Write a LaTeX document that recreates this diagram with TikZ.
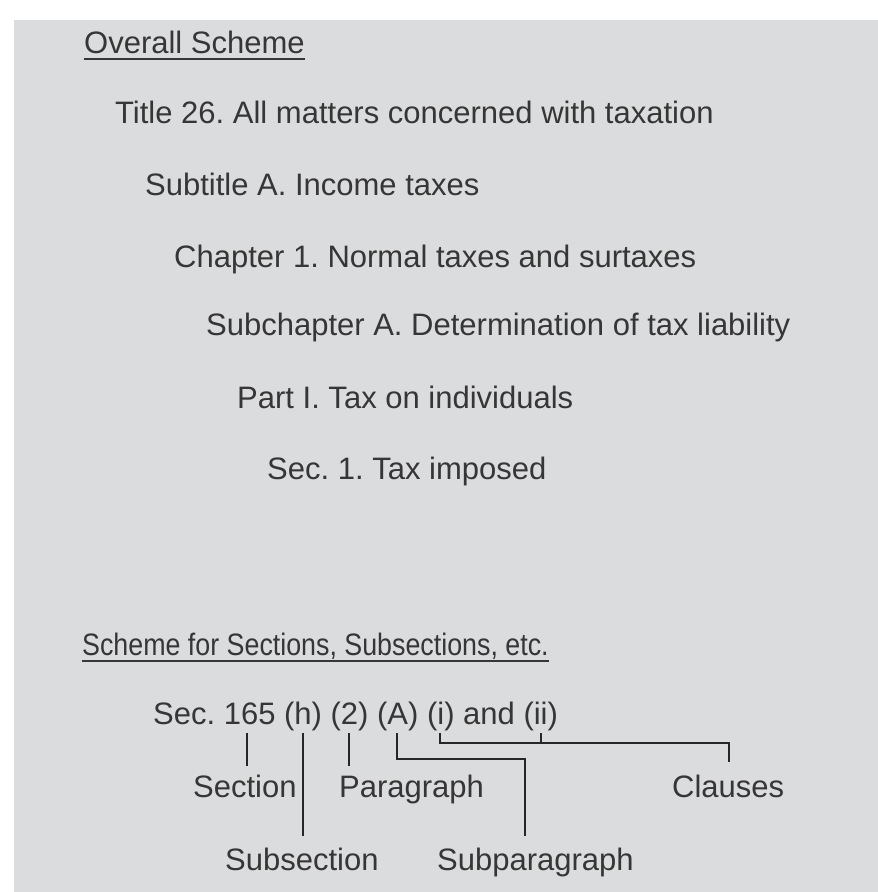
\documentclass[tikz,border=0pt]{standalone}
\usepackage{fontspec}
\setmainfont{Liberation Sans}
\usepackage{xcolor}
\usetikzlibrary{positioning,calc}
\frenchspacing

\definecolor{panel}{HTML}{DBDCDE}
\definecolor{ink}{HTML}{363636}
\definecolor{wire}{HTML}{262626}

\tikzset{
  txt/.style={inner sep=0pt, anchor=base west, text=ink,
    font=\fontsize{31}{36}\selectfont},
  uline/.style={draw=ink, line width=2pt},
  tick/.style={draw=wire, line width=2.6pt},
}

\begin{document}
\begin{tikzpicture}[x=1pt, y=-1pt]
  \useasboundingbox (0,0) rectangle (878,892);
  \fill[panel] (14,20) rectangle (878,892);
  % Overall scheme
  \node[txt] (ovr) at (84,53) {Overall Scheme};
  \draw[uline] ([yshift=-6pt]ovr.base west) -- ([yshift=-6pt]ovr.base east);
  \node[txt] (ttl) at (115,123) {Title 26. All matters concerned with taxation};
  \node[txt] (subt) at (145,195) {Subtitle A. Income taxes};
  \node[txt] (chap) at (174,267) {Chapter 1. Normal taxes and surtaxes};
  \node[txt] (subc) at (206,335) {Subchapter A. Determination of tax liability};
  \node[txt] (part) at (237,408) {Part I. Tax on individuals};
  \node[txt] (sec1) at (267,479) {Sec. 1. Tax imposed};
  % Scheme for sections
  \node[txt, xscale=0.865] (sch) at (82,655) {Scheme for Sections, Subsections, etc.};
  \draw[uline] ([yshift=-6pt]sch.base west) -- ([yshift=-6pt]sch.base east);
  \node[txt] (cite) at (153,724) {Sec. 165 (h) (2) (A) (i) and (ii)};
  % Labels
  \node[txt] (sect) at (193,797) {Section};
  \node[txt] (para) at (339,797) {Paragraph};
  \node[txt] (clau) at (672,797) {Clauses};
  \node[txt] (subs) at (225,870) {Subsection};
  \node[txt] (subp) at (437,870) {Subparagraph};
  % Ticks under the citation
  \coordinate (tSec) at (247,733);
  \coordinate (tSubs) at (303,733);
  \coordinate (tPara) at (349,733);
  \coordinate (tA) at (397,733);
  \coordinate (tI) at (440,733);
  \coordinate (tII) at (541,733);
  \coordinate (kA) at (525,759);
  \coordinate (kCl) at (729,743);
  % Connectors
  \draw[tick, shorten >=8pt] (tSec) -- (tSec |- sect.north);
  \draw[tick, shorten >=11pt] (tSubs) -- (tSubs |- subs.north);
  \draw[tick, shorten >=8pt] (tPara) -- (tPara |- para.north);
  \draw[tick, shorten >=11pt] (tA) |- (kA) -- (kA |- subp.north);
  \draw[tick, shorten >=12pt] (tI) |- (kCl) -- (kCl |- clau.north);
  \draw[tick] (tII) -- (tII |- kCl);
\end{tikzpicture}
\end{document}
